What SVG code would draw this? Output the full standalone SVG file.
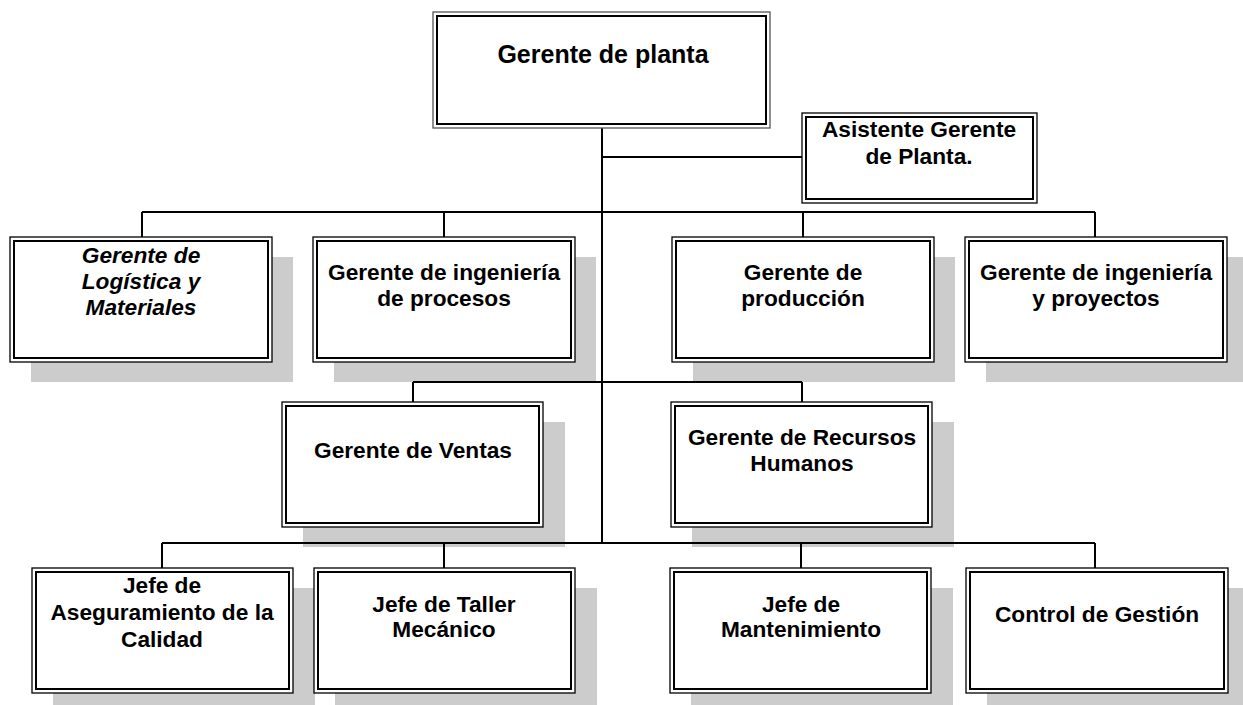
<svg xmlns="http://www.w3.org/2000/svg" width="1243" height="705" viewBox="0 0 1243 705">
<style>
.bg{fill:#fff}
.sh{fill:#cccccc}
.o{fill:#fff;stroke:#000;stroke-width:1.3}
.i{fill:none;stroke:#000;stroke-width:2}
.c{fill:none;stroke:#000;stroke-width:2}
.t{font-family:"Liberation Sans",Arial,sans-serif;font-weight:bold;font-size:22.7px;text-anchor:middle;fill:#000}
.it{font-style:italic}
</style>
<rect class="bg" x="0" y="0" width="1243" height="705"/>
<g id="shadows">
<rect class="sh" x="31" y="257" width="262" height="125"/>
<rect class="sh" x="334" y="257" width="262" height="125"/>
<rect class="sh" x="693" y="257" width="262" height="125"/>
<rect class="sh" x="986" y="257" width="262" height="125"/>
<rect class="sh" x="303" y="422" width="262" height="125"/>
<rect class="sh" x="692" y="422" width="262" height="125"/>
<rect class="sh" x="53" y="588" width="262" height="125"/>
<rect class="sh" x="335" y="588" width="262" height="125"/>
<rect class="sh" x="691" y="588" width="262" height="125"/>
<rect class="sh" x="987" y="588" width="262" height="125"/>
</g>
<g id="connectors">
<path class="c" d="M602,128 V543"/>
<path class="c" d="M602,157 H802"/>
<path class="c" d="M142,212 H1095 M142,212 V237 M444,212 V237 M803,212 V237 M1095,212 V237"/>
<path class="c" d="M413,382 H802 M413,382 V402 M802,382 V402"/>
<path class="c" d="M162,543 H1095 M162,543 V568 M444,543 V568 M801,543 V568 M1095,543 V568"/>
</g>
<g id="n-gerente-planta">
<rect class="o" x="433" y="12" width="337" height="116" style="stroke:#555"/>
<rect class="i" x="437" y="16" width="329" height="108"/>
<text class="t" x="603" y="63" style="font-size:25px">Gerente de planta</text>
</g>
<g id="n-asistente">
<rect class="o" x="802" y="113" width="235" height="90"/>
<rect class="i" x="806" y="117" width="227" height="82"/>
<text class="t" x="919" y="137">Asistente Gerente</text>
<text class="t" x="919" y="164">de Planta.</text>
</g>
<g id="n-logistica">
<rect class="o" x="10" y="237" width="262" height="125"/>
<rect class="i" x="14" y="241" width="254" height="117"/>
<text class="t it" x="141" y="263">Gerente de</text>
<text class="t it" x="141" y="289">Logística y</text>
<text class="t it" x="141" y="315">Materiales</text>
</g>
<g id="n-ing-procesos">
<rect class="o" x="313" y="237" width="262" height="125"/>
<rect class="i" x="317" y="241" width="254" height="117"/>
<text class="t" x="444" y="280">Gerente de ingeniería</text>
<text class="t" x="444" y="306">de procesos</text>
</g>
<g id="n-produccion">
<rect class="o" x="672" y="237" width="262" height="125"/>
<rect class="i" x="676" y="241" width="254" height="117"/>
<text class="t" x="803" y="280">Gerente de</text>
<text class="t" x="803" y="306">producción</text>
</g>
<g id="n-ing-proyectos">
<rect class="o" x="965" y="237" width="262" height="125"/>
<rect class="i" x="969" y="241" width="254" height="117"/>
<text class="t" x="1096" y="280">Gerente de ingeniería</text>
<text class="t" x="1096" y="306">y proyectos</text>
</g>
<g id="n-ventas">
<rect class="o" x="282" y="402" width="261" height="125"/>
<rect class="i" x="286" y="406" width="253" height="117"/>
<text class="t" x="413" y="458">Gerente de Ventas</text>
</g>
<g id="n-rrhh">
<rect class="o" x="671" y="402" width="261" height="125"/>
<rect class="i" x="675" y="406" width="253" height="117"/>
<text class="t" x="802" y="445">Gerente de Recursos</text>
<text class="t" x="802" y="471">Humanos</text>
</g>
<g id="n-aseguramiento">
<rect class="o" x="32" y="568" width="261" height="125"/>
<rect class="i" x="36" y="572" width="253" height="117"/>
<text class="t" x="162" y="593">Jefe de</text>
<text class="t" x="162" y="620">Aseguramiento de la</text>
<text class="t" x="162" y="647">Calidad</text>
</g>
<g id="n-taller">
<rect class="o" x="314" y="568" width="261" height="125"/>
<rect class="i" x="318" y="572" width="253" height="117"/>
<text class="t" x="444" y="612">Jefe de Taller</text>
<text class="t" x="444" y="637">Mecánico</text>
</g>
<g id="n-mantenimiento">
<rect class="o" x="670" y="568" width="261" height="125"/>
<rect class="i" x="674" y="572" width="253" height="117"/>
<text class="t" x="801" y="612">Jefe de</text>
<text class="t" x="801" y="637">Mantenimiento</text>
</g>
<g id="n-control">
<rect class="o" x="966" y="568" width="262" height="125"/>
<rect class="i" x="970" y="572" width="254" height="117"/>
<text class="t" x="1097" y="622">Control de Gestión</text>
</g>
</svg>
